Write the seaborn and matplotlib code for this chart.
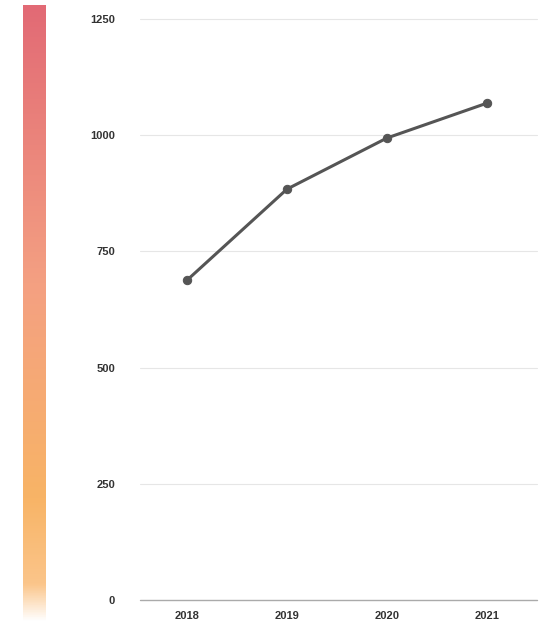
import numpy as np
import pandas as pd
import seaborn as sns
import matplotlib.pyplot as plt
from matplotlib.colors import LinearSegmentedColormap

years = ["2018", "2019", "2020", "2021"]
values = [688, 884, 994, 1069]
yticks = [0, 250, 500, 750, 1000, 1250]

sns.set_theme(style="white")
plt.rcParams['font.family'] = ['Liberation Sans', 'DejaVu Sans']

W, H = 554, 622
fig = plt.figure(figsize=(W / 100, H / 100), dpi=100)

# gradient bar
gax = fig.add_axes([23 / W, 0, 23 / W, 617 / H])
cmap = LinearSegmentedColormap.from_list(
    "g", [(0.0, "#ffffff"), (0.06, "#fbc58a"), (0.2, "#f8b466"), (0.55, "#f4a082"), (1.0, "#e26a75")])
grad = np.linspace(0, 1, 256).reshape(-1, 1)
gax.imshow(grad, aspect="auto", cmap=cmap, origin="lower")
gax.set_axis_off()

left, right, top, bottom = 140, 537, 19, 600
ax = fig.add_axes([left / W, 1 - bottom / H, (right - left) / W, (bottom - top) / H])
df = pd.DataFrame({"year": years, "value": values})
sns.lineplot(data=df, x="year", y="value", ax=ax, color="#555555", linewidth=2.2,
             marker="o", markersize=6, markeredgecolor="#555555", sort=False)

ax.set_ylim(0, 1250)
ax.set_xlim(-0.47, 3.5)
ax.set_yticks(yticks)
ax.set_yticklabels([str(t) for t in yticks])
for t in yticks:
    ax.axhline(t, color="#aaaaaa" if t == 0 else "#e6e6e6", linewidth=1.0 if t == 0 else 0.8,
               zorder=0, clip_on=False)
for s in ax.spines.values():
    s.set_visible(False)
ax.tick_params(axis="y", length=0, pad=18, labelsize=8, labelcolor="#333333")
ax.tick_params(axis="x", length=0, pad=8, labelsize=8, labelcolor="#333333")
for lbl in ax.get_xticklabels() + ax.get_yticklabels():
    lbl.set_fontweight("bold")
ax.set_xlabel("")
ax.set_ylabel("")
ax.grid(False)

fig.savefig("out.png", dpi=100)
